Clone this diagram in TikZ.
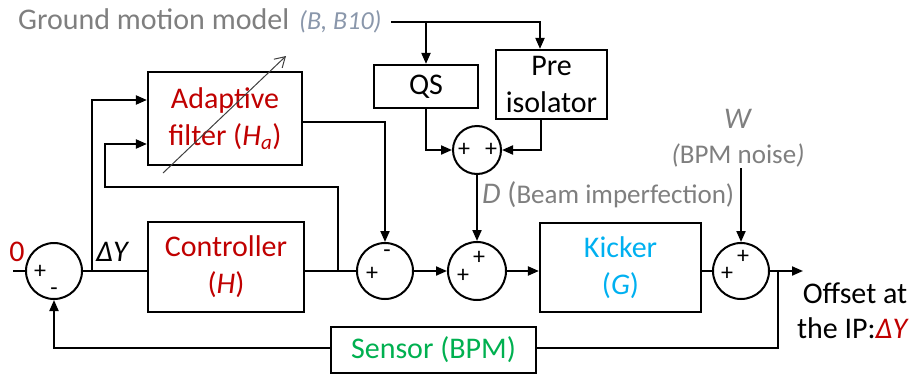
\documentclass[tikz,border=0pt]{standalone}
\usepackage{fontspec}
\setmainfont{Carlito}
\usetikzlibrary{arrows.meta}
\definecolor{dred}{HTML}{C00000}
\definecolor{tgray}{HTML}{7F7F7F}
\definecolor{bgray}{HTML}{8A97AB}
\definecolor{kblue}{HTML}{00B0F0}
\definecolor{sgreen}{HTML}{00B050}
\definecolor{dgray}{HTML}{404040}
\newcommand{\fsbig}{\fontsize{30}{37}\selectfont}
\newcommand{\fsmid}{\fontsize{27}{32}\selectfont}
\newcommand{\fssign}{\fontsize{24}{28}\selectfont}
\begin{document}
\begin{tikzpicture}[x=1pt,y=-1pt,
 box/.style={draw,line width=2.2pt,inner sep=0pt,align=center,font=\fsbig},
 sumnode/.style={draw,circle,line width=2pt,inner sep=0pt,minimum size=56pt},
 sgn/.style={inner sep=0pt,font=\fssign},
 lbl/.style={inner sep=0pt},
 conn/.style={line width=2pt},
 arr/.style={conn,-{Triangle[length=11pt,width=9pt]}},
]
\useasboundingbox (0,0) rectangle (917,375);

% blocks
\node[box,minimum width=154pt,minimum height=93pt,text=dred] (af) at (225,118.5) {Adaptive\\filter (\textit{H}\textsubscript{\textit{a}})};
\node[box,minimum width=156pt,minimum height=90pt,text=dred] (ctrl) at (226,267) {Controller\\(\textit{H})};
\node[box,minimum width=161pt,minimum height=89pt,text=kblue] (kick) at (620.5,267.5) {Kicker\\(\textit{G})};
\node[box,minimum width=104pt,minimum height=43pt] (qs) at (426,86.5) {QS};
\node[box,minimum width=111pt,minimum height=69pt] (pre) at (551.5,84.5) {Pre\\isolator};
\node[box,minimum width=205pt,minimum height=46pt,text=sgreen] (sens) at (433.5,350) {Sensor (BPM)};

% summing junctions
\node[sumnode] (s0) at (54,271) {};
\node[sumnode] (s2) at (385,271) {};
\node[sumnode,minimum size=58pt] (s3) at (477,271) {};
\node[sumnode] (s4) at (741,271) {};
\node[sumnode,minimum size=48pt] (s1) at (477,150) {};

% signs
\node[sgn] (s0a) at (40,272) {+};
\node[sgn] (s0b) at (54,292) {-};
\node[sgn] (s2a) at (372,274) {+};
\node[sgn] (s2b) at (387,254) {-};
\node[sgn] (s3a) at (463,276) {+};
\node[sgn] (s3b) at (479,258) {+};
\node[sgn] (s4a) at (727,274) {+};
\node[sgn] (s4b) at (743,257) {+};
\node[sgn] (s1a) at (464,150) {+};
\node[sgn] (s1b) at (491,150) {+};

% labels
\node[lbl,anchor=base west,text=tgray,font=\fsbig] (gm) at (18,29) {Ground motion model};
\node[lbl,anchor=base west,text=bgray,font=\fontsize{26}{30}\selectfont\itshape] (gmb) at (299,29) {(B, B10)};
\node[lbl,anchor=base west,text=tgray] (dlab) at (482,203) {{\fsbig\textit{D} (}{\fsmid Beam imperfection)}};
\node[lbl,anchor=base,text=tgray,font=\fsbig] (wlab) at (738,128) {\textit{W}};
\node[lbl,anchor=base,text=tgray] (wnoise) at (738,163) {\fsmid\textit{(}BPM noise\textit{)}};
\node[lbl,anchor=base,text=dred,font=\fsbig] (zero) at (17,261) {0};
\node[lbl,anchor=base west,font=\fsbig] (dy) at (96,261) {\textit{ΔY}};
\node[lbl,anchor=base,font=\fsbig] (off1) at (855,303) {Offset at};
\node[lbl,anchor=base,font=\fsbig] (off2) at (853,338) {the IP:\textcolor{dred}{\textit{ΔY}}};

% coordinates
\coordinate (in0) at (13,271);
\coordinate (b1) at (92,271);
\coordinate (b2) at (338,271);
\coordinate (fb) at (105,187);
\coordinate (b3) at (778,271);
\coordinate (out) at (803,271);
\coordinate (w0) at (741,168);
\coordinate (g0) at (391,22);
\coordinate (adA) at (163,173);
\coordinate (adB) at (286,56);

% connectors
\draw[conn] (in0) -- (s0.west);
\draw[conn] (s0.east) -- (s0.east -| ctrl.west);
\draw[arr] (b1) |- ([yshift=18.5pt]af.west);
\draw[conn] (s2.west -| ctrl.east) -- (s2.west);
\draw[arr] (b2) |- (fb) |- ([yshift=-25.5pt]af.west);
\draw[arr] ([yshift=-3.5pt]af.east) -| (s2.north);
\draw[arr] (s2.east) -- (s3.west);
\draw[arr] (s3.east) -- (s3.east -| kick.west);
\draw[conn] (s4.west -| kick.east) -- (s4.west);
\draw[arr] (s4.east) -- (out);
\draw[conn] (b3) |- ([yshift=2pt]sens.east);
\draw[arr] ([yshift=2pt]sens.west) -| (s0.south);
\draw[arr] (g0) -| ([xshift=-11.5pt]pre.north);
\draw[arr] (qs.north |- g0) -- (qs.north);
\draw[arr] (qs.south) |- (s1.west);
\draw[arr] ([xshift=-10.5pt]pre.south) |- (s1.east);
\draw[arr] (s1.south) -- (s3.north);
\draw[arr] (w0) -- (s4.north);
\draw[dgray,line width=1pt,-{Straight Barb[length=10pt,width=12pt]}] (adA) -- (adB);
\end{tikzpicture}
\end{document}
